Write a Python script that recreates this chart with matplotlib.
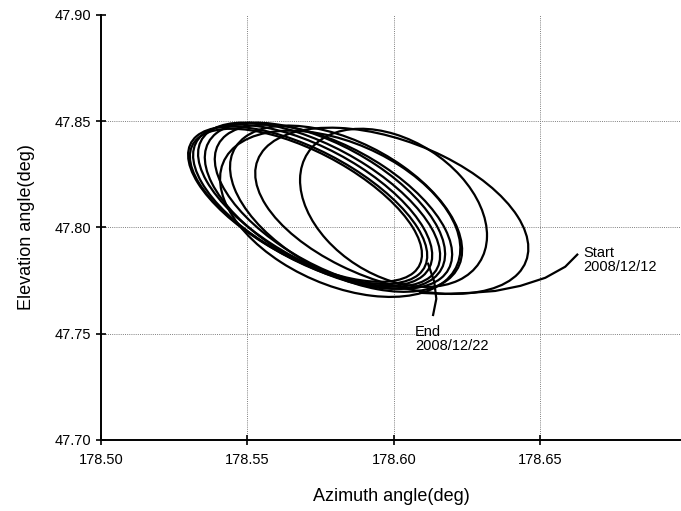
import numpy as np
import matplotlib
matplotlib.use("Agg")
import matplotlib.pyplot as plt
from matplotlib.patches import Ellipse

# daily loops: centre, half extent in az / el, tilt (corr.)
loop_az = [178.5993, 178.5999, 178.5837, 178.5794, 178.5765, 178.5745,
           178.5723, 178.5706, 178.5700, 178.5817]
loop_el = [47.8078, 47.8092, 47.8088, 47.8097, 47.8102, 47.8107,
           47.8104, 47.8104, 47.8104, 47.8064]
loop_hx = [0.0466, 0.0319, 0.0396, 0.0405, 0.0410, 0.0413,
           0.0408, 0.0408, 0.0396, 0.0410]
loop_hy = [0.0391, 0.0372, 0.0391, 0.0386, 0.0391, 0.0386,
           0.0379, 0.0370, 0.0360, 0.0391]
loop_rho = [-0.45, -0.35, -0.50, -0.58, -0.58, -0.62,
            -0.62, -0.64, -0.64, -0.42]

# start tail (2008/12/12) and end tail (2008/12/22)
start_az = [178.6626, 178.6585, 178.6517, 178.6432, 178.6346, 178.6261, 178.6175, 178.6090]
start_el = [47.7872, 47.7815, 47.7763, 47.7725, 47.7701, 47.7692, 47.7687, 47.7692]
end_az = [178.6117, 178.6138, 178.6145, 178.6134]
end_el = [47.7829, 47.7744, 47.7664, 47.7588]

xticks = [178.50, 178.55, 178.60, 178.65]
yticks = [47.70, 47.75, 47.80, 47.85, 47.90]

plt.rcParams.update({"font.family": ["Liberation Sans", "DejaVu Sans"]})
fig = plt.figure(figsize=(6.81, 5.11), dpi=100)
ax = fig.add_axes([0.148, 0.139, 0.852, 0.832])

for v in xticks[1:]:
    ax.axvline(v, color='0.5', ls=(0, (1, 1.2)), lw=0.7, zorder=1)
for v in yticks[1:-1]:
    ax.axhline(v, color='0.5', ls=(0, (1, 1.2)), lw=0.7, zorder=1)

for cx, cy, hx, hy, r in zip(loop_az, loop_el, loop_hx, loop_hy, loop_rho):
    cov = np.array([[hx**2, r*hx*hy], [r*hx*hy, hy**2]])
    w, v = np.linalg.eigh(cov)
    ang = np.degrees(np.arctan2(v[1, 1], v[0, 1]))
    ax.add_patch(Ellipse((cx, cy), 2*np.sqrt(w[1]), 2*np.sqrt(w[0]), angle=ang,
                         fill=False, ec='k', lw=1.6, zorder=3))
ax.plot(start_az, start_el, '-', color='k', lw=1.6, zorder=3)
ax.plot(end_az, end_el, '-', color='k', lw=1.6, zorder=3)

ax.text(178.6647, 47.7846, 'Start\n2008/12/12', fontsize=10.5, va='center', ha='left', linespacing=1.0)
ax.text(178.6073, 47.7474, 'End\n2008/12/22', fontsize=10.5, va='center', ha='left', linespacing=1.0)

ax.set_xlim(178.50, 178.698)
ax.set_ylim(47.70, 47.90)
ax.set_xticks(xticks)
ax.set_yticks(yticks)
ax.set_xticklabels([f'{t:.2f}' for t in xticks])
ax.set_yticklabels([f'{t:.2f}' for t in yticks])
ax.tick_params(direction='inout', length=7, width=1.2, labelsize=10.5)
ax.tick_params(axis='x', pad=6)
for s in ['top', 'right']:
    ax.spines[s].set_visible(False)
for s in ['left', 'bottom']:
    ax.spines[s].set_linewidth(1.4)
ax.set_xlabel('Azimuth angle(deg)', fontsize=13, labelpad=15)
ax.set_ylabel('Elevation angle(deg)', fontsize=13, labelpad=14)

fig.savefig('out.png', dpi=100)
